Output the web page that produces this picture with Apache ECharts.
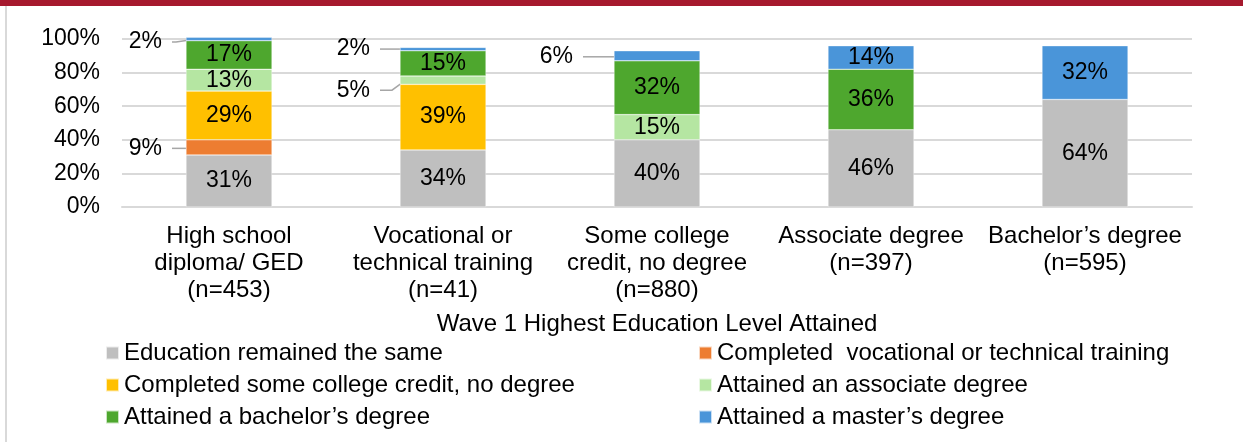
<!DOCTYPE html>
<html>
<head>
<meta charset="utf-8">
<script src="https://cdn.jsdelivr.net/npm/echarts@6/dist/echarts.min.js"></script>
<style>
  html, body { margin: 0; padding: 0; background: #fff; }
  #wrap { position: relative; width: 1243px; height: 442px; overflow: hidden; }
  #chart { position: absolute; left: 0; top: 0; width: 1243px; height: 442px; }
  .top-bar { position: absolute; left: 0; top: 0; width: 1243px; height: 6px; background: #A6192E; }
  .left-rule { position: absolute; left: 5px; top: 6px; width: 2px; height: 436px; background: #D9D9D9; }
</style>
</head>
<body>
<div id="wrap">
  <div id="chart"></div>
  <div class="top-bar"></div>
  <div class="left-rule"></div>
</div>
<script>
const categories = [
  "High school\ndiploma/ GED\n(n=453)",
  "Vocational or\ntechnical training\n(n=41)",
  "Some college\ncredit, no degree\n(n=880)",
  "Associate degree\n(n=397)",
  "Bachelor\u2019s degree\n(n=595)",
];

const seriesNames = [
  "Education remained the same",
  "Completed  vocational or technical training",
  "Completed some college credit, no degree",
  "Attained an associate degree",
  "Attained a bachelor\u2019s degree",
  "Attained a master\u2019s degree",
];

const remainedSame = [31, 34, 40, 46, 64];
const completedVocational = [9, null, null, null, null];
const completedSomeCollege = [29, 39, null, null, null];
const attainedAssociate = [13, 5, 15, null, null];
const attainedBachelor = [17, 15, 32, 36, null];
const attainedMaster = [2, 2, 6, 14, 32];

const seriesValues = [
  remainedSame,
  completedVocational,
  completedSomeCollege,
  attainedAssociate,
  attainedBachelor,
  attainedMaster,
];

const colors = ["#BFBFBF", "#ED7D31", "#FFC000", "#B5E6A2", "#4EA72E", "#4A95D9"];

// small segments get their label pulled out to the left with a leader line
// key: seriesIndex-dataIndex
const callouts = {
  "5-0": { gap: 14, dy: 3, bend: 4 },
  "1-0": { gap: 14, dy: 1, bend: 4 },
  "5-1": { gap: 20, dy: 0, bend: 4 },
  "3-1": { gap: 20, dy: 10, bend: 12 },
  "5-2": { gap: 31, dy: 1, bend: 4 },
};

const font = "'Liberation Sans', Arial, sans-serif";
const textColor = "#000000";
const gridColor = "#D9D9D9";

const chart = echarts.init(document.getElementById("chart"), null, { renderer: "canvas" });

const legendBase = {
  orient: "vertical",
  top: 341,
  padding: 0,
  itemGap: 8,
  itemWidth: 13,
  itemHeight: 13,
  icon: "rect",
  selectedMode: false,
  textStyle: { color: textColor, fontSize: 24, fontFamily: font },
};

const option = {
  animation: false,
  textStyle: { fontFamily: font },
  grid: {
    left: 122,
    right: 51,
    top: 39,
    bottom: 235,
  },
  legend: [
    { ...legendBase, left: 105, data: [seriesNames[0], seriesNames[2], seriesNames[4]] },
    { ...legendBase, left: 698, data: [seriesNames[1], seriesNames[3], seriesNames[5]] },
  ],
  xAxis: {
    type: "category",
    data: categories,
    name: "Wave 1 Highest Education Level Attained",
    nameLocation: "middle",
    nameGap: 105,
    nameTextStyle: { color: textColor, fontSize: 24, fontFamily: font },
    axisLine: { lineStyle: { color: gridColor, width: 2 } },
    axisTick: { show: false },
    axisLabel: {
      interval: 0,
      color: textColor,
      fontSize: 24,
      lineHeight: 27,
      margin: 16,
      fontFamily: font,
    },
  },
  yAxis: {
    type: "value",
    min: 0,
    max: 100,
    interval: 20,
    axisLine: { show: false },
    axisTick: { show: false },
    splitLine: { lineStyle: { color: gridColor, width: 2 } },
    axisLabel: {
      formatter: "{value}%",
      color: textColor,
      fontSize: 23,
      margin: 22,
      fontFamily: font,
    },
  },
  series: seriesValues.map((values, s) => ({
    name: seriesNames[s],
    type: "bar",
    stack: "total",
    barWidth: 86,
    clip: false,
    itemStyle: {
      color: colors[s],
      borderColor: "rgba(255,255,255,0.7)",
      borderWidth: 0.5,
    },
    label: {
      show: true,
      position: "inside",
      formatter: "{c}%",
      color: textColor,
      fontSize: 23,
      fontFamily: font,
    },
    labelLayout: (params) => {
      const c = callouts[params.seriesIndex + "-" + params.dataIndex];
      if (!c) return {};
      return {
        x: params.rect.x - c.gap,
        y: params.rect.y + params.rect.height / 2 + c.dy,
        align: "right",
        verticalAlign: "middle",
      };
    },
    data: values.map((v, i) => {
      const c = callouts[s + "-" + i];
      if (!c) return v;
      return {
        value: v,
        label: { padding: [0, 10, 0, 0], backgroundColor: "rgba(0,0,0,0)" },
        labelLine: {
          show: true,
          length2: c.bend,
          lineStyle: { color: "#A6A6A6", width: 1.5 },
        },
      };
    }),
  })),
};

chart.setOption(option);
</script>
</body>
</html>
